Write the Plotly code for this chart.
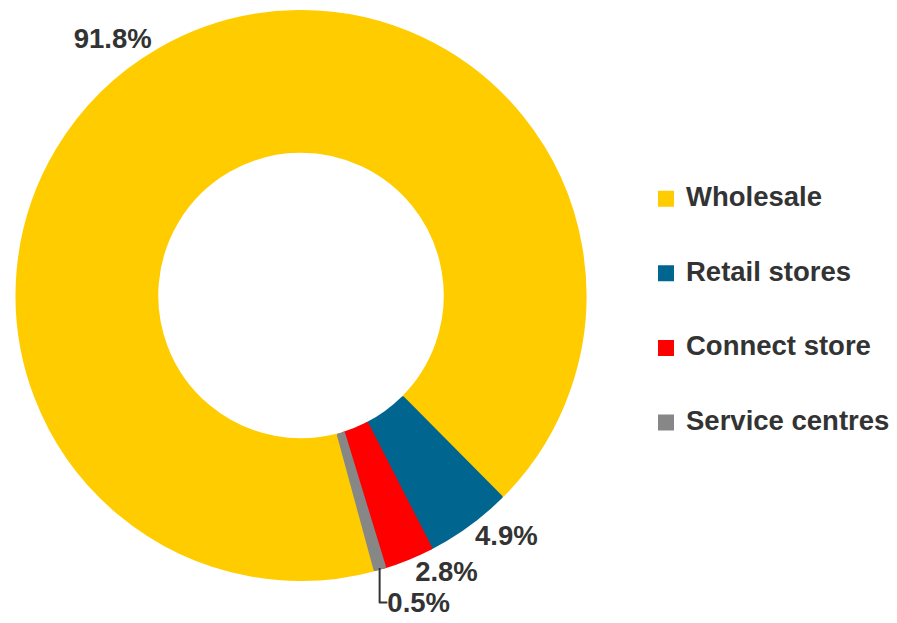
import plotly.graph_objects as go

# ---- data ----
labels = ["Wholesale", "Retail stores", "Connect store", "Service centres"]
values = [91.8, 4.9, 2.8, 0.5]
colors = ["#FFCC00", "#006690", "#FF0000", "#878787"]

W, H = 897, 623
FONT = "Liberation Sans, Arial, sans-serif"
TEXT_COLOR = "#333333"
LW = 4  # slice outline (same colour as slice) -> also enlarges legend squares

# legend entries padded with blank lines so that the items are spaced like the reference
legend_names = ["&nbsp;<br><span style='font-size:27.5px'>%s</span><br>&nbsp;" % l for l in labels]

# pie geometry: visible outer radius 287 px centred at (301, 297)
R = 287 - LW / 2
cx, cy = 301, 297
t, b = cy - R, H - (cy + R)

fig = go.Figure(
    go.Pie(
        labels=legend_names,
        values=values,
        sort=False,
        direction="clockwise",
        rotation=164.8,
        hole=(143.5 + LW / 2) / R,
        marker=dict(colors=colors, line=dict(color=colors, width=LW)),
        textposition="outside",
        texttemplate="%{value:.1f}%",
        textfont=dict(family=FONT, size=27.5, color=TEXT_COLOR, weight="bold"),
        hoverinfo="skip",
        domain=dict(x=[(cx - R) / W, (cx + R) / W], y=[0, 1]),
    )
)

legend_top = 157.2
fig.update_layout(
    width=W,
    height=H,
    margin=dict(l=0, r=0, t=t, b=b),
    paper_bgcolor="white",
    plot_bgcolor="white",
    showlegend=True,
    legend=dict(
        x=646 / W,
        xanchor="left",
        y=(H - b - legend_top) / (H - t - b),
        yanchor="top",
        font=dict(family=FONT, size=18.36, color=TEXT_COLOR, weight="bold"),
        bgcolor="rgba(0,0,0,0)",
        itemclick=False,
        itemdoubleclick=False,
    ),
)

fig.write_html("out.html")
